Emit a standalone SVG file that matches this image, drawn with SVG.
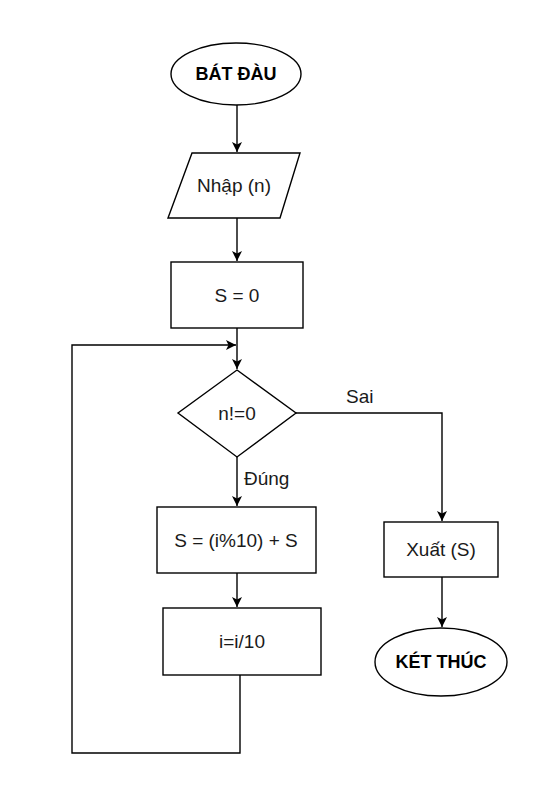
<svg xmlns="http://www.w3.org/2000/svg" width="533" height="803" viewBox="0 0 533 803">
<style>
.s{fill:#fff;stroke:#000;stroke-width:1.4}
.c{fill:none;stroke:#000;stroke-width:1.4}
.t{font-family:"Liberation Sans",Arial,sans-serif;font-size:19px;fill:#1a1a1a;text-anchor:middle}
.b{font-weight:bold;fill:#000;font-size:18px}
.l{font-family:"Liberation Sans",Arial,sans-serif;font-size:19px;fill:#1a1a1a}
</style>
<defs>
<marker id="ar" markerUnits="userSpaceOnUse" markerWidth="12" markerHeight="12" refX="10" refY="5" orient="auto">
<path d="M0,0 L10,5 L0,10 L2.5,5 z" fill="#000"/>
</marker>
</defs>
<rect width="533" height="803" fill="#fff"/>
<g id="connectors">
<path class="c" d="M237,105 V152" marker-end="url(#ar)"/>
<path class="c" d="M237,218 V261" marker-end="url(#ar)"/>
<path class="c" d="M237,328 V369" marker-end="url(#ar)"/>
<path class="c" d="M240,675 V753 H72 V345 H236" marker-end="url(#ar)"/>
<path class="c" d="M237,457 V506" marker-end="url(#ar)"/>
<path class="c" d="M296,413 H442 V521" marker-end="url(#ar)"/>
<path class="c" d="M237,573 V607" marker-end="url(#ar)"/>
<path class="c" d="M442,577 V627" marker-end="url(#ar)"/>
<text class="l" x="346" y="403">Sai</text>
<text class="l" x="244" y="485">Đúng</text>
</g>
<g id="start">
<ellipse class="s" cx="236" cy="74" rx="65" ry="31"/>
<text class="t b" x="236" y="80">BÁT ĐÀU</text>
</g>
<g id="input">
<polygon class="s" points="192,153 300,153 280,218 168,218"/>
<text class="t" x="234" y="192">Nhập (n)</text>
</g>
<g id="init">
<rect class="s" x="171" y="262" width="132" height="66"/>
<text class="t" x="237" y="302">S = 0</text>
</g>
<g id="cond">
<polygon class="s" points="237,370 296,413 237,457 178,413"/>
<text class="t" x="237" y="420">n!=0</text>
</g>
<g id="sum">
<rect class="s" x="157" y="507" width="159" height="66"/>
<text class="t" x="236" y="547">S = (i%10) + S</text>
</g>
<g id="div">
<rect class="s" x="163" y="608" width="158" height="67"/>
<text class="t" x="242" y="648">i=i/10</text>
</g>
<g id="output">
<rect class="s" x="384" y="522" width="114" height="55"/>
<text class="t" x="441" y="556">Xuất (S)</text>
</g>
<g id="end">
<ellipse class="s" cx="441" cy="662" rx="66" ry="34"/>
<text class="t b" x="441" y="668">KÉT THÚC</text>
</g>
</svg>
